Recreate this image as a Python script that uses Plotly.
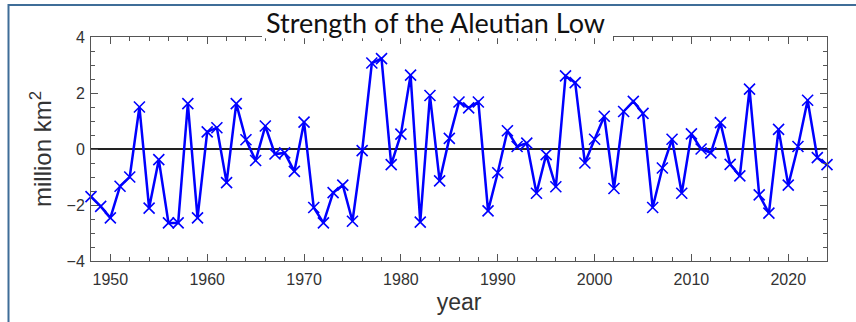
import plotly.graph_objects as go

years = list(range(1948, 2025))
strength = [-1.70, -2.05, -2.46, -1.33, -1.00, 1.50, -2.11, -0.38, -2.64, -2.64, 1.62, -2.46, 0.61,
            0.76, -1.20, 1.62, 0.33, -0.41, 0.82, -0.18, -0.14, -0.80, 0.96, -2.09, -2.64,
            -1.56, -1.29, -2.58, -0.06, 3.07, 3.23, -0.56, 0.53, 2.64, -2.61, 1.91, -1.14, 0.38,
            1.68, 1.47, 1.68, -2.21, -0.85, 0.65, 0.09, 0.21, -1.58, -0.20, -1.35, 2.61,
            2.37, -0.50, 0.35, 1.17, -1.41, 1.34, 1.70, 1.27, -2.09, -0.68, 0.35, -1.58, 0.54,
            0.0, -0.14, 0.94, -0.55, -0.96, 2.14, -1.64, -2.29, 0.70, -1.29, 0.09, 1.74, -0.31, -0.56]
x_ticks = [1950, 1960, 1970, 1980, 1990, 2000, 2010, 2020]
y_ticks = [-4, -2, 0, 2, 4]
title_text = "Strength of the Aleutian Low"

W, H = 856, 322
L, R, T, B = 91, 29, 37, 57
PW, PH = W - L - R, H - T - B


def px(x):
    return (x - L) / PW


def py(y):
    return (H - B - y) / PH


fig = go.Figure()
fig.add_trace(go.Scatter(
    x=years, y=strength, mode="lines+markers",
    line=dict(color="#0000ff", width=2.5),
    marker=dict(symbol="x-thin", size=11, line=dict(color="#0000ff", width=1.6)),
    showlegend=False, cliponaxis=False,
))

axis_common = dict(
    showline=True, linecolor="#555555", linewidth=1, mirror="ticks",
    ticks="inside", tickcolor="#555555", ticklen=7, tickwidth=1,
    showgrid=False,
    tickfont=dict(family="Liberation Sans, Arial", size=16, color="#333333"),
)

fig.update_layout(
    width=W, height=H,
    margin=dict(l=L, r=R, t=T, b=B),
    paper_bgcolor="white", plot_bgcolor="white",
    xaxis=dict(range=[1948, 2024], tickvals=x_ticks,
               minor=dict(dtick=2, tick0=1948, ticks="inside", ticklen=4, tickcolor="#555555"),
               title=dict(text="year", font=dict(family="Liberation Sans, Arial", size=23, color="#333333"), standoff=6),
               zeroline=False, ticklabelstandoff=4, **axis_common),
    yaxis=dict(range=[-4, 4], tickvals=y_ticks,
               minor=dict(dtick=0.5, tick0=0, ticks="inside", ticklen=4, tickcolor="#555555"),
               title=dict(text="million km<sup>2</sup>", font=dict(family="Liberation Sans, Arial", size=24, color="#333333"), standoff=8),
               zeroline=True, zerolinecolor="#222222", zerolinewidth=1.5, ticklabelstandoff=2, **axis_common),
    shapes=[
        dict(type="rect", xref="paper", yref="paper", x0=px(262), x1=px(613), y0=py(38.3), y1=py(8),
             fillcolor="white", line=dict(width=0), layer="above"),
        dict(type="rect", xref="paper", yref="paper", x0=px(8.5), x1=px(870), y0=py(340), y1=py(4.5),
             fillcolor="rgba(0,0,0,0)", line=dict(color="#3f6d98", width=2), layer="above"),
    ],
    annotations=[dict(text=title_text, xref="paper", yref="paper", x=px(435), y=py(22),
                      xanchor="center", yanchor="middle", showarrow=False,
                      font=dict(family="Lato", size=27, color="#111111"))],
)

fig.write_html("out.html")
